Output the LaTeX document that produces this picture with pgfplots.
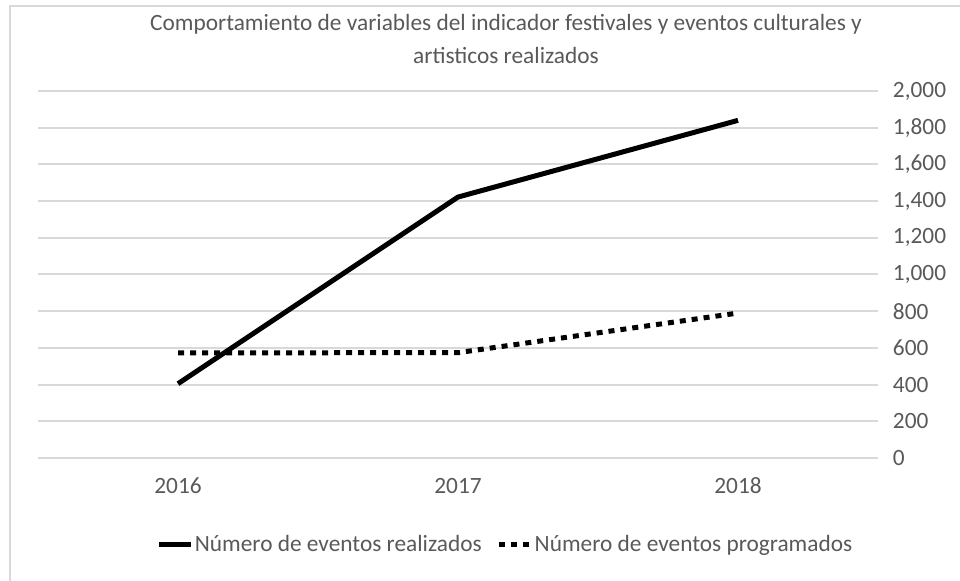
\documentclass[border=0pt]{standalone}
\usepackage{fontspec}
\setmainfont{Carlito}
\usepackage{pgfplots}
\pgfplotsset{compat=1.18}
\definecolor{txt}{HTML}{595959}
\definecolor{gridc}{HTML}{D9D9D9}
\begin{document}
\fontsize{17.5}{21}\selectfont
\begin{tikzpicture}[x=0.75pt,y=0.75pt]
\path[use as bounding box] (0,0) rectangle (960,581);
% chart frame (only left and top visible)
\draw[gridc, line width=1.5pt] (9.5,0) -- (9.5,574.5) -- (960,574.5);
% title
\node[txt, align=center, font=\fontsize{17.5}{24.75}\selectfont] at (506,542)
  {Comportamiento de variables del indicador festivales y eventos culturales y\\artisticos realizados};
\begin{axis}[
    at={(28.5pt,92.25pt)}, anchor=south west,
    scale only axis, width=630pt, height=275.25pt,
    xmin=-0.5, xmax=2.5, ymin=0, ymax=2000,
    axis line style={draw=none},
    major tick length=0pt,
    xtick={0,1,2}, xticklabels={2016,2017,2018},
    ytick={0,200,...,2000},
    ymajorgrids, grid style={gridc, line width=1.5pt},
    yticklabel pos=right,
    /pgf/number format/assume math mode=true,
    /pgf/number format/1000 sep={,},
    tick label style={txt, font=\fontsize{17.5}{21}\selectfont},
    yticklabel style={anchor=west, inner sep=0pt, xshift=11pt},
    xticklabel style={anchor=center, inner sep=0pt, yshift=-21pt},
    legend style={at={(0.556,-0.237)}, anchor=center, draw=none, fill=none,
        text=txt, font=\fontsize{17.5}{21}\selectfont, inner sep=0pt,
        nodes={inner xsep=1pt},
        /tikz/every even column/.append style={column sep=10pt}},
    legend columns=2,
    legend image code/.code={\draw[#1] (0pt,0pt) -- (24pt,0pt);},
    clip=false,
]
\addplot[black, line width=3.75pt, line join=round] coordinates {(0,405) (1,1422) (2,1840)};
\addlegendentry{Número de eventos realizados}
\addplot[black, line width=3.75pt, dash pattern=on 4.5pt off 4.5pt] coordinates {(0,573) (1,574) (2,790)};
\addlegendentry{Número de eventos programados}
\end{axis}
\end{tikzpicture}
\end{document}
